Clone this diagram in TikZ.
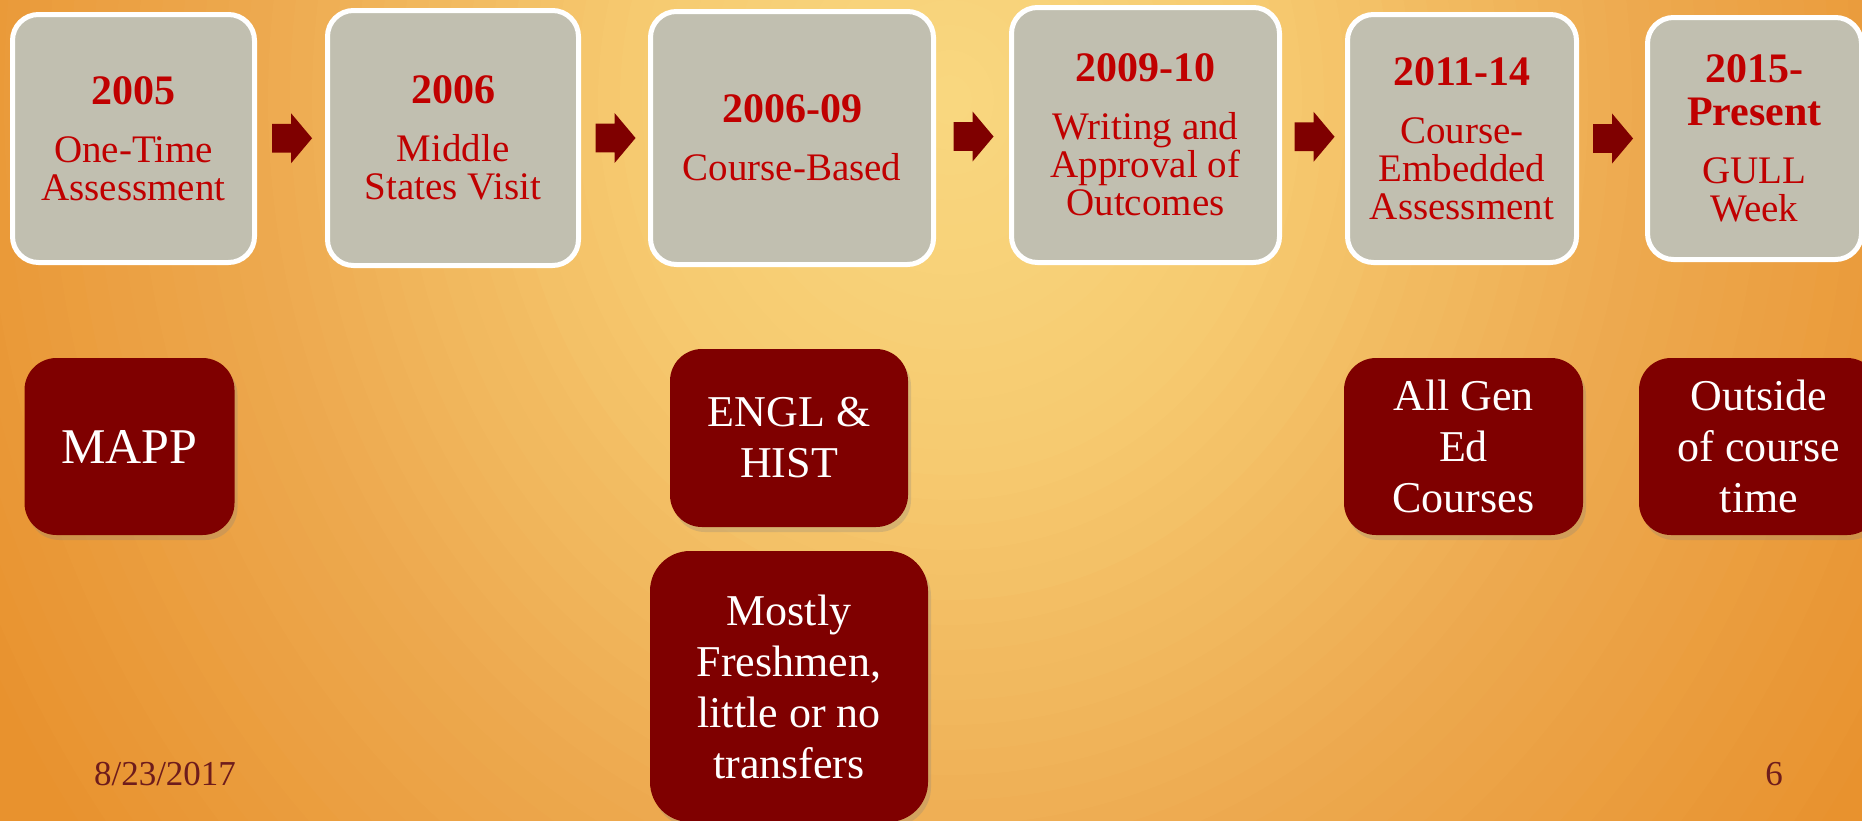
\documentclass[tikz,border=0pt]{standalone}
\usepackage{fontspec}
\setmainfont{Liberation Serif}
\usetikzlibrary{shapes.arrows, calc, shadows}
\definecolor{slidered}{RGB}{192, 0, 0}
\definecolor{darkmaroon}{RGB}{127, 0, 0}
\definecolor{boxgray}{RGB}{193, 191, 176}
\definecolor{datebrown}{RGB}{110, 28, 28}
\definecolor{bglight}{RGB}{249, 216, 128}
\definecolor{bgmid}{RGB}{246, 202, 112}
\definecolor{bgorange}{RGB}{237, 169, 79}
\definecolor{bgdeep}{RGB}{232, 146, 46}
\newcommand{\yeartitle}[1]{{\fontsize{21pt}{21.5pt}\selectfont\bfseries #1\par}\vspace{10pt}}

\begin{document}
\begin{tikzpicture}[x=0.5pt, y=-0.5pt,
  yearbox/.style={draw=white, line width=2.5pt, fill=boxgray, rounded corners=13pt, text=slidered, align=flush center, inner sep=0pt, font=\fontsize{19.5pt}{19pt}\selectfont},
  notebox/.style={fill=darkmaroon, rounded corners=16pt, text=white, align=flush center, inner sep=0pt, font=\fontsize{22pt}{25.5pt}\selectfont, drop shadow={opacity=0.25, shadow xshift=1.5pt, shadow yshift=-2.5pt}},
  blockarrow/.style={single arrow, fill=darkmaroon, inner xsep=0pt, inner ysep=7pt, minimum height=20pt, single arrow head extend=5.25pt, single arrow tip angle=100, xshift=-2.5pt},
  footnote/.style={text=datebrown, font=\fontsize{17.5pt}{17.5pt}\selectfont}]

  % slide background: light glow at the top, orange towards the edges
  \useasboundingbox (0,0) rectangle (1862,820);
  \clip (-20,-20) rectangle (1882,840);
  \fill[bgdeep] (-20,-20) rectangle (1882,840);
  \foreach \i in {50,49,...,33} {
    \pgfmathtruncatemacro\p{(\i-32)/18*100}
    \fill[bgdeep!\p!bgorange] (950,100) ellipse [x radius={22*\i}, y radius={25*\i}];
  }
  \foreach \i in {32,31,...,16} {
    \pgfmathtruncatemacro\p{(\i-15)/17*100}
    \fill[bgorange!\p!bgmid] (950,100) ellipse [x radius={22*\i}, y radius={25*\i}];
  }
  \foreach \i in {15,14,...,1} {
    \pgfmathtruncatemacro\p{\i/15*100}
    \fill[bgmid!\p!bglight] (950,100) ellipse [x radius={22*\i}, y radius={25*\i}];
  }

  % timeline
  \node[yearbox, minimum width=121pt, minimum height=124pt, text width=111pt] (y2005) at (133.5,138.5) {\yeartitle{2005}One-Time\\Assessment};
  \node[yearbox, minimum width=125.5pt, minimum height=127.5pt, text width=115pt] (y2006) at (453,138) {\yeartitle{2006}Middle\\States Visit};
  \node[yearbox, minimum width=141.5pt, minimum height=126.5pt, text width=131pt] (y2009) at (792,138) {\yeartitle{2006-09}Course-Based};
  \node[yearbox, minimum width=134pt, minimum height=127.5pt, text width=124pt] (y2010) at (1145.5,135) {\yeartitle{2009-10}Writing and\\Approval of\\Outcomes};
  \node[yearbox, minimum width=114.5pt, minimum height=124pt, text width=106pt] (y2014) at (1462,138.5) {\yeartitle{2011-14}Course-\\Embedded\\Assessment};
  \node[yearbox, minimum width=107pt, minimum height=121pt, text width=100pt] (y2015) at (1754.5,138.5) {\yeartitle{2015-\\Present}GULL\\Week};

  \node[blockarrow] (ar1) at ($(y2005.east)!.5!(y2006.west)$) {};
  \node[blockarrow] (ar2) at ($(y2006.east)!.5!(y2009.west)$) {};
  \node[blockarrow] (ar3) at ($(y2009.east)!.5!(y2010.west)$) {};
  \node[blockarrow] (ar4) at ($(y2010.east)!.5!(y2014.west)$) {};
  \node[blockarrow] (ar5) at ($(y2014.east)!.5!(y2015.west)$) {};

  % details under the years
  \node[notebox, minimum width=105pt, minimum height=88.5pt, text width=100pt, font=\fontsize{25pt}{27pt}\selectfont] (mapp) at (129.5,446.5) {MAPP};
  \node[notebox, minimum width=119pt, minimum height=89pt, text width=112pt] (engl) at (789,438) {ENGL \&\\HIST};
  \node[notebox, minimum width=139pt, minimum height=135.5pt, text width=130pt, rounded corners=20pt] (fresh) at (789,686.5) {Mostly\\Freshmen,\\little or no\\transfers};
  \node[notebox, minimum width=119.5pt, minimum height=88.5pt, text width=112pt] (gened) at (1463.5,446.5) {All Gen\\Ed\\Courses};
  \node[notebox, minimum width=120pt, minimum height=88.5pt, text width=112pt] (outside) at (1759,446.5) {Outside\\of course\\time};

  \node[footnote, anchor=base] (date) at (165,785) {8/23/2017};
  \node[footnote, anchor=base] (page) at (1774,785) {6};
\end{tikzpicture}
\end{document}
